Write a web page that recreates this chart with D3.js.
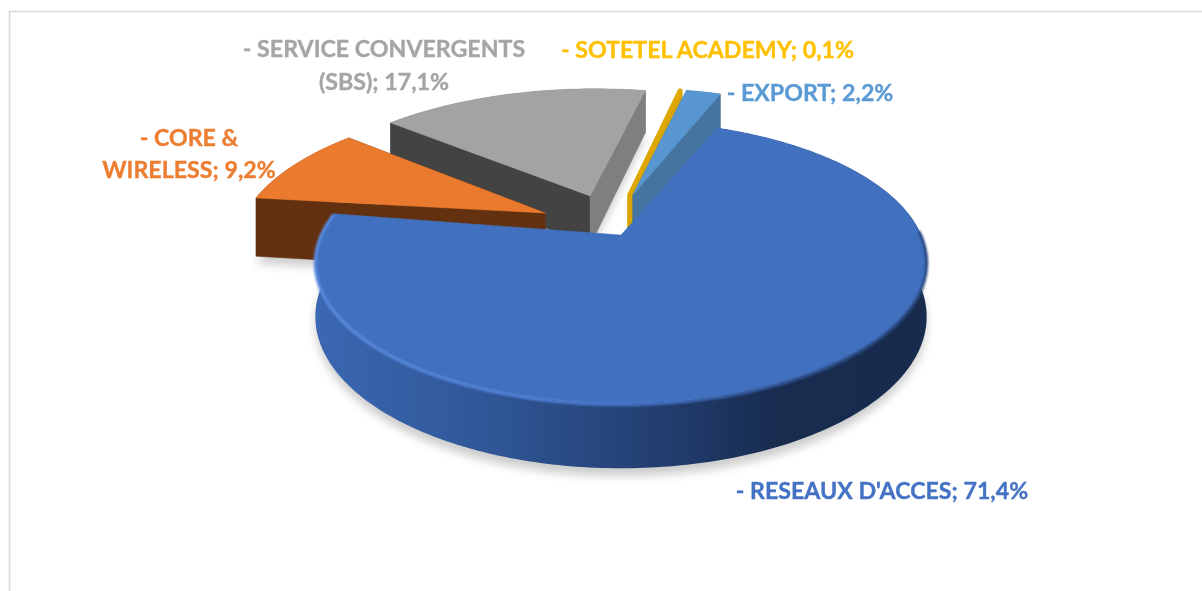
<!DOCTYPE html>
<html><head><meta charset="utf-8">
<script src="https://cdn.jsdelivr.net/npm/d3@7"></script>
<style>html,body{margin:0;background:#fff}svg{display:block;filter:blur(0.35px)}text{font-family:Lato,"Open Sans",sans-serif;font-weight:700}</style>
</head><body><svg id="c" width="1202" height="591"></svg>
<script>
const categories=["RESEAUX D'ACCES","CORE & WIRELESS","SERVICE CONVERGENTS (SBS)","SOTETEL ACADEMY","EXPORT"];
const values=[71.4,9.2,17.1,0.1,2.2];
const labelColors=["#4472c4","#ed7d31","#a5a5a5","#ffc000","#5b9bd5"];
const topColors=["#4170bf","#ea7b2e","#a3a3a3","#dfa800","#5796d0"];
const wallA=["#2a4a80","#633110","#434343","#d9a300","#44749f"];
const wallB=["#2a4a80","#633110","#7f7f7f","#d9a300","#44749f"];
const edgeWidth=[0.5,0.5,0.5,3,0.5];
const offsetX=[0,-0.261,-0.109,0.028,0.042];
const offsetY=[0,0.167,0.304,0.312,0.312];
const radius=[1,1.03,1.05,1.05,1.05];
const turnDeg=[0,-2.5,-2.3,-2,-1.5];
const wallDepth=[1,1.17,1,1,1];
const labelLines=[["- RESEAUX D'ACCES; "],["- CORE &","WIRELESS; "],["- SERVICE CONVERGENTS","(SBS); "],["- SOTETEL ACADEMY; "],["- EXPORT; "]];
const labelAt=[[882,499],[189,146,178],[384,57,90],[707.5,58],[810,101]];

const svg=d3.select("#c");
const defs=svg.append("defs");
svg.append("path").attr("d","M9.5,591V11.5H1202").attr("fill","none").attr("stroke","#d9d9d9").attr("stroke-width",1.6);

const ax=621,ay=235,A=300,B=136,k=0.1915,depth=52.6;
const pie=d3.pie().sort(null).startAngle(22.2*Math.PI/180).endAngle((22.2+360)*Math.PI/180);
const arcs=pie(values);
const proj=(X,Y,z=0)=>{const w=1+k*Y;return [ax+A*X/w, ay-B*Y/w+z*depth/w];};
const sl=arcs.map((a,i)=>{
  const ox=offsetX[i], oy=offsetY[i], r=radius[i], turn=turnDeg[i]*Math.PI/180;
  const n=Math.max(2,Math.ceil((a.endAngle-a.startAngle)*60));
  const rim=d3.range(n+1).map(j=>{const t=turn+a.startAngle+(a.endAngle-a.startAngle)*j/n;return [ox+r*Math.sin(t),oy+r*Math.cos(t)];});
  return {i,ox,oy,rim};
});
const line=d3.line();
const P=(pts,z)=>pts.map(p=>proj(p[0],p[1],z));

const blur=defs.append("filter").attr("id","sh").attr("x","-10%").attr("y","-10%").attr("width","120%").attr("height","130%");
blur.append("feGaussianBlur").attr("stdDeviation",5);
const soft=defs.append("filter").attr("id","soft").attr("x","-5%").attr("y","-5%").attr("width","110%").attr("height","110%");
soft.append("feGaussianBlur").attr("stdDeviation",1.1);
const g0=defs.append("linearGradient").attr("id","wall").attr("gradientUnits","userSpaceOnUse").attr("x1",315).attr("x2",927).attr("y1",0).attr("y2",0);
[[0,"#3b68b2"],[0.3,"#2f5595"],[0.55,"#233f72"],[0.75,"#182c50"],[1,"#182b4e"]].forEach(s=>g0.append("stop").attr("offset",s[0]).attr("stop-color",s[1]));
const g1=defs.append("linearGradient").attr("id","bevel").attr("gradientUnits","userSpaceOnUse").attr("x1",315).attr("x2",927).attr("y1",0).attr("y2",0);
[[0,"#5a8ce0"],[0.35,"#5384dc"],[0.6,"#4472c4"],[0.85,"#2f5291"],[1,"#2a4a80"]].forEach(s=>g1.append("stop").attr("offset",s[0]).attr("stop-color",s[1]));

// soft floor shadows
sl.forEach(s=>{
  const pts=P(s.rim,1.12*wallDepth[s.i]).concat([proj(s.ox,s.oy,1.12*wallDepth[s.i])]);
  svg.append("path").attr("d",line(pts)+"Z").attr("fill","#000").attr("opacity",0.2).attr("filter","url(#sh)");
});

// back to front: gray, orange, yellow, light blue, then the main slice
[2,1,3,4,0].forEach(i=>{
  const s=sl[i],o=[s.ox,s.oy],dz=wallDepth[i];
  const g=svg.append("g");
  const first=s.rim[0],last=s.rim[s.rim.length-1];
  const wall=(a,b,c)=>g.append("path").attr("d",line(P([a,b],0).concat(P([b,a],dz)))+"Z").attr("fill",c).attr("stroke",c).attr("stroke-width",edgeWidth[i]);
  const rimCol=i===0?"url(#wall)":wallB[i];
  g.append("path").attr("d",line(P(s.rim,0).concat(P(s.rim.slice().reverse(),dz)))+"Z").attr("fill",rimCol);
  if(i!==0){wall(o,first,wallA[i]);wall(o,last,wallB[i]);}
  const top=P(s.rim,0).concat([proj(s.ox,s.oy,0)]);
  g.append("path").attr("d",line(top)+"Z").attr("fill",topColors[i]).attr("stroke",topColors[i]).attr("stroke-width",edgeWidth[i]).attr("stroke-linejoin","round");
  if(i===0){
    const front=s.rim.filter(p=>p[1]<0.05||p[0]<0);
    g.append("path").attr("d",line(P(front,0.02))).attr("fill","none").attr("stroke","url(#bevel)").attr("stroke-width",3).attr("filter","url(#soft)");
  }
});

// labels
const fmt=v=>d3.format(".1f")(v).replace(".",",")+"%";
labelLines.forEach((ls,i)=>{
  const t=svg.append("text").attr("text-anchor","middle").attr("fill",labelColors[i]).attr("stroke",labelColors[i]).attr("stroke-width",0.35).attr("font-size",23.2);
  ls.forEach((l,j)=>{
    const txt=j===ls.length-1?l+fmt(values[i]):l;
    t.append("tspan").attr("x",labelAt[i][0]).attr("y",labelAt[i][j+1]).text(txt);
  });
});
</script></body></html>
